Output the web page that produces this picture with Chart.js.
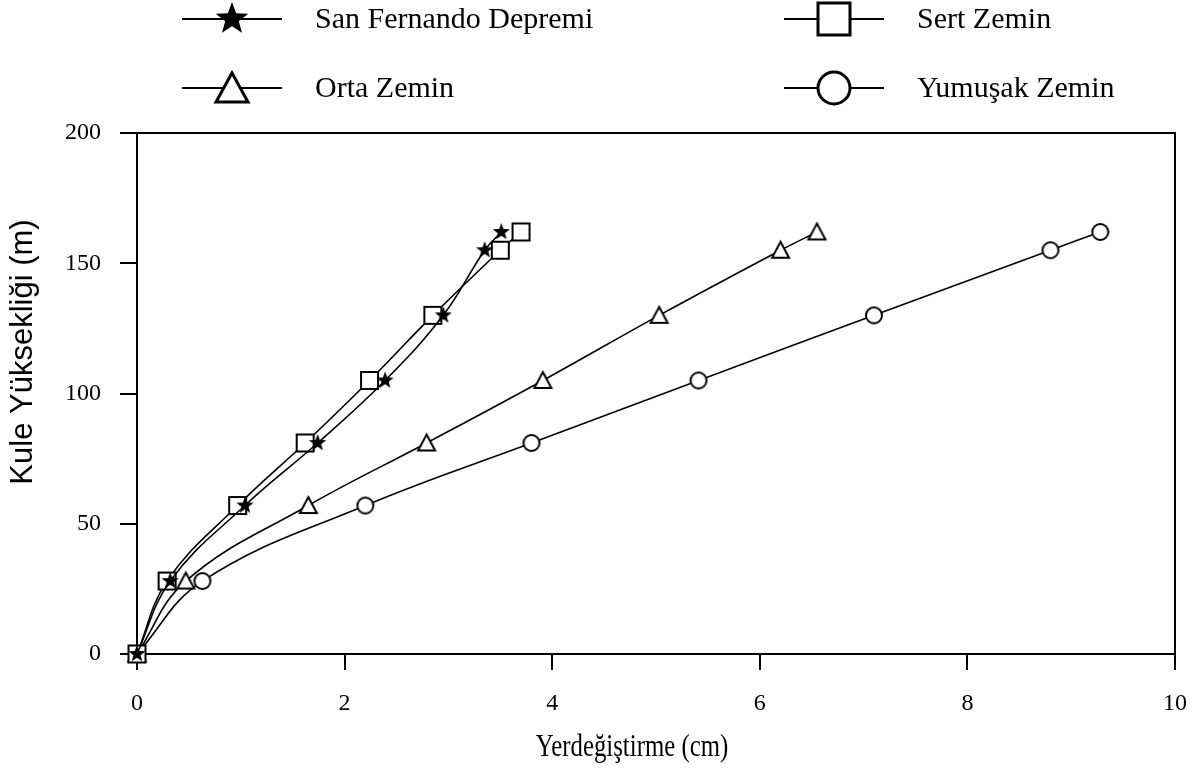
<!DOCTYPE html>
<html>
<head>
<meta charset="utf-8">
<script src="https://cdn.jsdelivr.net/npm/chart.js@4"></script>
<style>
html, body { margin: 0; background: #fff; }
#wrap { width: 1195px; height: 771px; }
</style>
</head>
<body>
<div id="wrap"><canvas id="dispChart"></canvas></div>
<script>
// kat yukseklikleri (m) ve yerdegistirmeler (cm)
var heights = [0, 28, 57, 81, 105, 130, 155, 162];
var sanFernando = [0, 0.32, 1.04, 1.74, 2.39, 2.95, 3.35, 3.51];
var sertZemin = [0, 0.29, 0.97, 1.62, 2.24, 2.85, 3.50, 3.70];
var ortaZemin = [0, 0.47, 1.65, 2.79, 3.91, 5.03, 6.20, 6.55];
var yumusakZemin = [0, 0.63, 2.20, 3.80, 5.41, 7.10, 8.80, 9.28];
var seriesNames = ["San Fernando Depremi", "Sert Zemin", "Orta Zemin", "Yumuşak Zemin"];
var xTicks = [0, 2, 4, 6, 8, 10];
var yTicks = [0, 50, 100, 150, 200];
var xTitle = 'Yerdeğiştirme (cm)';
var yTitle = 'Kule Yüksekliği (m)';

var serif = "'Liberation Serif', 'Times New Roman', serif";
var sans = "'Liberation Sans', Arial, sans-serif";

// marker images
function makeMarker(type, size) {
  var c = document.createElement('canvas');
  var pad = 3;
  c.width = c.height = size + pad * 2;
  var g = c.getContext('2d');
  var m = c.width / 2, r = size / 2;
  g.lineWidth = size > 20 ? 3 : 2;
  g.strokeStyle = '#000';
  g.fillStyle = '#fff';
  g.beginPath();
  if (type == 'star') {
    for (var i = 0; i < 10; i++) {
      var rr = i % 2 ? r * 0.42 : r;
      var a = -Math.PI / 2 + i * Math.PI / 5;
      g.lineTo(m + rr * Math.cos(a), m + rr * Math.sin(a));
    }
    g.closePath();
    g.fillStyle = '#000';
    g.fill();
    return c;
  }
  if (type == 'square') {
    g.rect(m - r, m - r, size, size);
  } else if (type == 'triangle') {
    var h = size * 0.88;
    g.moveTo(m, m - h / 2 - 1);
    g.lineTo(m + r, m + h / 2);
    g.lineTo(m - r, m + h / 2);
    g.closePath();
  } else {
    g.arc(m, m, r, 0, Math.PI * 2);
  }
  g.fill();
  g.stroke();
  return c;
}

var markerTypes = ['star', 'square', 'triangle', 'circle'];
var pointSizes = [18, 17, 17, 16];
var legendSizes = [34, 32, 32, 32];
var pointImgs = markerTypes.map(function (t, i) { return makeMarker(t, pointSizes[i]); });
var legendImgs = markerTypes.map(function (t, i) { return makeMarker(t, legendSizes[i]); });

function toPoints(xs) {
  return xs.map(function (v, i) { return { x: v, y: heights[i] }; });
}

var seriesData = [sanFernando, sertZemin, ortaZemin, yumusakZemin];

var datasets = seriesData.map(function (s, i) {
  return {
    label: seriesNames[i],
    data: toPoints(s),
    borderColor: '#000',
    borderWidth: 1.6,
    tension: 0.4,
    pointStyle: pointImgs[i],
    pointRadius: 8,
    clip: false
  };
});

// legend at top, axis titles and box frame
var frameAndLegend = {
  id: 'frameAndLegend',
  afterDraw: function (chart) {
    var ctx = chart.ctx, a = chart.chartArea;
    ctx.save();
    ctx.strokeStyle = '#000';
    ctx.lineWidth = 2;
    ctx.beginPath();
    ctx.moveTo(a.left, a.top);
    ctx.lineTo(a.right, a.top);
    ctx.lineTo(a.right, a.bottom);
    ctx.stroke();

    var slots = [
      { x0: 182, y: 19 }, { x0: 784, y: 19 },
      { x0: 182, y: 88 }, { x0: 784, y: 88 }
    ];
    ctx.font = '30px ' + serif;
    ctx.textBaseline = 'middle';
    ctx.fillStyle = '#000';
    chart.data.datasets.forEach(function (ds, i) {
      var s = slots[i];
      ctx.lineWidth = 2;
      ctx.beginPath();
      ctx.moveTo(s.x0, s.y);
      ctx.lineTo(s.x0 + 100, s.y);
      ctx.stroke();
      var img = legendImgs[i];
      ctx.drawImage(img, s.x0 + 50 - img.width / 2, s.y - img.height / 2);
      ctx.fillText(ds.label, s.x0 + 133, s.y + 1);
    });

    // axis titles
    ctx.textAlign = 'center';
    ctx.save();
    ctx.translate(632, 748);
    ctx.scale(0.8, 1);
    ctx.font = '31px ' + serif;
    ctx.fillText(xTitle, 0, 0);
    ctx.restore();
    ctx.translate(23, 352);
    ctx.rotate(-Math.PI / 2);
    ctx.font = '31px ' + sans;
    ctx.fillText(yTitle, 0, 0);
    ctx.restore();
  }
};

var ctx = document.getElementById('dispChart').getContext('2d');
var dispChart = new Chart(ctx, {
  type: 'line',
  data: { datasets: datasets },
  plugins: [frameAndLegend],
  options: {
    responsive: true,
    maintainAspectRatio: false,
    animation: false,
    layout: { padding: { top: 133, right: 20, left: 0, bottom: 0 } },
    plugins: { legend: { display: false }, tooltip: { enabled: false } },
    scales: {
      x: {
        type: 'linear',
        min: 0, max: 10,
        afterBuildTicks: function (s) { s.ticks = xTicks.map(function (v) { return { value: v }; }); },
        afterFit: function (s) { s.height = 117; s.paddingRight = 0; s.paddingLeft = 0; },
        border: { display: true, color: '#000', width: 2 },
        grid: { drawOnChartArea: false, drawTicks: true, tickLength: 16, color: '#000', lineWidth: 2 },
        ticks: { color: '#000', padding: 19, maxRotation: 0, font: { family: serif, size: 24 } }
      },
      y: {
        type: 'linear',
        min: 0, max: 200,
        afterBuildTicks: function (s) { s.ticks = yTicks.map(function (v) { return { value: v }; }); },
        afterFit: function (s) { s.width = 137; s.paddingTop = 0; s.paddingBottom = 0; },
        border: { display: true, color: '#000', width: 2 },
        grid: { drawOnChartArea: false, drawTicks: true, tickLength: 17, color: '#000', lineWidth: 2 },
        ticks: { color: '#000', padding: 19, font: { family: serif, size: 24 } }
      }
    }
  }
});
</script>
</body>
</html>
